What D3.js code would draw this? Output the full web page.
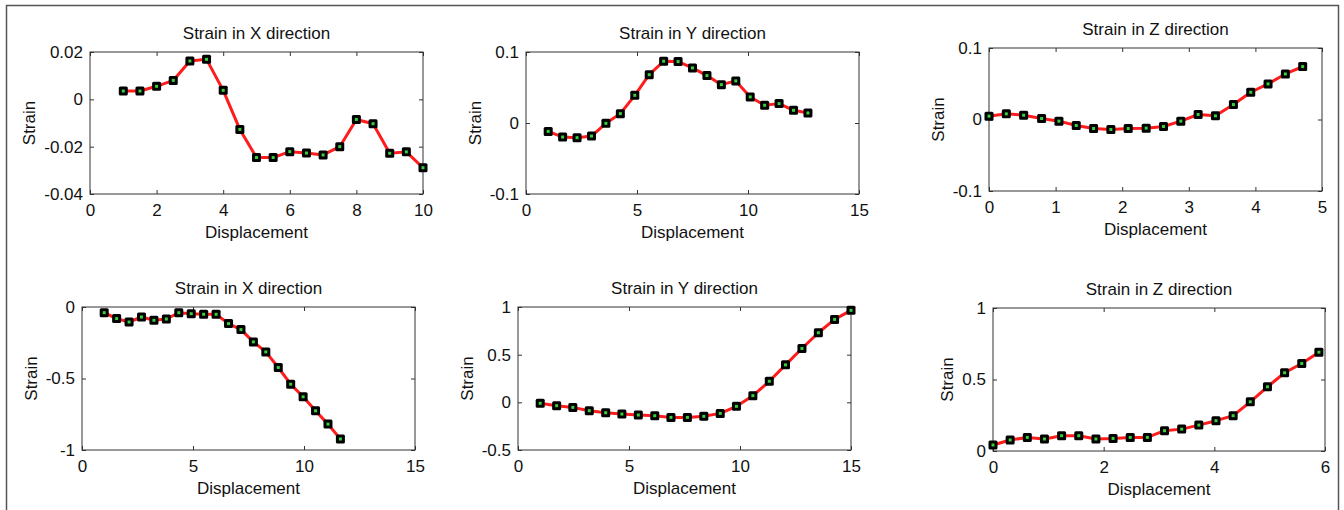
<!DOCTYPE html>
<html>
<head>
<meta charset="utf-8">
<script src="https://cdn.jsdelivr.net/npm/d3@7"></script>
<style>
  body { margin: 0; background: #fff; }
  text { font-family: "Liberation Sans", Arial, sans-serif; fill: #111; }
</style>
</head>
<body>
<div id="chart"></div>
<script>
// data
var titles = ["Strain in X direction", "Strain in Y direction", "Strain in Z direction",
              "Strain in X direction", "Strain in Y direction", "Strain in Z direction"];

var x1 = [1, 1.5, 2, 2.5, 3, 3.5, 4, 4.5, 5, 5.5, 6, 6.5, 7, 7.5, 8, 8.5, 9, 9.5, 10];
var y1 = [0.0035, 0.0035, 0.0055, 0.008, 0.0162, 0.0169, 0.0038, -0.0127, -0.0246, -0.0246,
          -0.0221, -0.0227, -0.0235, -0.0200, -0.0085, -0.0103, -0.0228, -0.0222, -0.0289];

var x2 = [1, 1.65, 2.3, 2.95, 3.6, 4.25, 4.9, 5.55, 6.2, 6.85, 7.5, 8.15, 8.8, 9.45, 10.1, 10.75, 11.4, 12.05, 12.7];
var y2 = [-0.0118, -0.0198, -0.0207, -0.0184, -0.0005, 0.0132, 0.039, 0.068, 0.087, 0.0866,
          0.0776, 0.0668, 0.054, 0.0593, 0.0367, 0.025, 0.0273, 0.0179, 0.0141];

var x3 = [0, 0.26, 0.52, 0.79, 1.05, 1.31, 1.57, 1.83, 2.09, 2.36, 2.62, 2.88, 3.14, 3.40, 3.67, 3.93, 4.19, 4.45, 4.71];
var y3 = [0.0047, 0.0079, 0.006, 0.0014, -0.0023, -0.0084, -0.0126, -0.014, -0.0126, -0.0121,
          -0.0098, -0.0023, 0.007, 0.0051, 0.0209, 0.0381, 0.0498, 0.0637, 0.074];

var x4 = [1, 1.56, 2.12, 2.68, 3.24, 3.8, 4.36, 4.92, 5.48, 6.04, 6.6, 7.16, 7.72, 8.28, 8.84, 9.4, 9.96, 10.52, 11.08, 11.64];
var y4 = [-0.040, -0.081, -0.105, -0.070, -0.093, -0.084, -0.040, -0.047, -0.051, -0.051,
          -0.116, -0.158, -0.244, -0.314, -0.423, -0.540, -0.628, -0.726, -0.819, -0.923];

var x5 = [1, 1.74, 2.47, 3.21, 3.95, 4.68, 5.42, 6.16, 6.89, 7.63, 8.37, 9.11, 9.84, 10.58, 11.32, 12.05, 12.79, 13.53, 14.26, 15];
var y5 = [-0.01, -0.035, -0.053, -0.088, -0.109, -0.123, -0.133, -0.14, -0.158, -0.158,
          -0.147, -0.116, -0.042, 0.070, 0.221, 0.393, 0.565, 0.730, 0.870, 0.965];

var x6 = [0, 0.31, 0.62, 0.93, 1.24, 1.55, 1.86, 2.17, 2.48, 2.79, 3.10, 3.41, 3.72, 4.03, 4.34, 4.65, 4.96, 5.27, 5.58, 5.89];
var y6 = [0.042, 0.077, 0.095, 0.084, 0.107, 0.107, 0.084, 0.088, 0.095, 0.095,
          0.142, 0.153, 0.181, 0.212, 0.247, 0.344, 0.449, 0.547, 0.612, 0.691];

var xTicks = [[0, 2, 4, 6, 8, 10], [0, 5, 10, 15], [0, 1, 2, 3, 4, 5],
              [0, 5, 10, 15], [0, 5, 10, 15], [0, 2, 4, 6]];
var yTicks = [[-0.04, -0.02, 0, 0.02], [-0.1, 0, 0.1], [-0.1, 0, 0.1],
              [-1, -0.5, 0], [-0.5, 0, 0.5, 1], [0, 0.5, 1]];

var xs = [x1, x2, x3, x4, x5, x6];
var ys = [y1, y2, y3, y4, y5, y6];

// layout of the six axes boxes
var boxes = [
  {left: 90,  top: 52,  w: 333, h: 142},
  {left: 526, top: 52,  w: 333, h: 142},
  {left: 989, top: 48,  w: 333, h: 143},
  {left: 82,  top: 307, w: 333, h: 143},
  {left: 518, top: 307, w: 333, h: 143},
  {left: 993, top: 308, w: 332, h: 143}
];

var svgWidth = 1344;
var svgHeight = 510;

var svg = d3.select("#chart").append("svg")
  .attr("width", svgWidth)
  .attr("height", svgHeight);

// outer frame (no bottom edge visible)
svg.append("path")
  .attr("d", "M6.5,510 L6.5,5.5 L1338.5,5.5 L1338.5,510")
  .attr("fill", "none")
  .attr("stroke", "#555")
  .attr("stroke-width", 1.5);

var fmt = function(d) { return String(+d.toFixed(4)); };

boxes.forEach(function(b, i) {
  var g = svg.append("g")
    .attr("transform", `translate(${b.left}, ${b.top})`);

  var xt = xTicks[i], yt = yTicks[i];
  var xScale = d3.scaleLinear()
    .domain([xt[0], xt[xt.length - 1]])
    .range([0, b.w]);
  var yScale = d3.scaleLinear()
    .domain([yt[0], yt[yt.length - 1]])
    .range([b.h, 0]);

  // axes, ticks pointing inward
  var bottom = g.append("g")
    .attr("transform", `translate(0, ${b.h})`)
    .call(d3.axisBottom(xScale).tickValues(xt).tickFormat(fmt)
      .tickSizeInner(-4).tickSizeOuter(0).tickPadding(10));
  var left = g.append("g")
    .call(d3.axisLeft(yScale).tickValues(yt).tickFormat(fmt)
      .tickSizeInner(-4).tickSizeOuter(0).tickPadding(7));
  g.append("g")
    .call(d3.axisTop(xScale).tickValues(xt).tickFormat("")
      .tickSizeInner(-4).tickSizeOuter(0));
  g.append("g")
    .attr("transform", `translate(${b.w}, 0)`)
    .call(d3.axisRight(yScale).tickValues(yt).tickFormat("")
      .tickSizeInner(-4).tickSizeOuter(0));

  g.selectAll(".domain").remove();
  g.selectAll(".tick line").attr("stroke", "#333");
  g.selectAll(".tick text")
    .attr("font-size", 17)
    .attr("font-family", "Liberation Sans, Arial, sans-serif")
    .attr("fill", "#111");

  g.append("rect")
    .attr("width", b.w)
    .attr("height", b.h)
    .attr("fill", "none")
    .attr("stroke", "#333")
    .attr("stroke-width", 1);

  // line and markers
  var pts = xs[i].map(function(x, j) { return [x, ys[i][j]]; });
  var line = d3.line()
    .x(d => xScale(d[0]))
    .y(d => yScale(d[1]));

  g.append("path")
    .datum(pts)
    .attr("d", line)
    .attr("fill", "none")
    .attr("stroke", "#ff1c1c")
    .attr("stroke-width", 3)
    .attr("stroke-linejoin", "round");

  var marks = g.selectAll(".mark")
    .data(pts)
    .enter();

  marks.append("rect")
    .attr("x", d => xScale(d[0]) - 4.5)
    .attr("y", d => yScale(d[1]) - 4.5)
    .attr("width", 9)
    .attr("height", 9)
    .attr("rx", 1.5)
    .attr("fill", "#000");

  marks.append("rect")
    .attr("x", d => xScale(d[0]) - 1.5)
    .attr("y", d => yScale(d[1]) - 1.5)
    .attr("width", 3)
    .attr("height", 3)
    .attr("fill", "#3ccf3c");

  // titles and axis labels
  g.append("text")
    .attr("x", b.w / 2)
    .attr("y", -13)
    .attr("text-anchor", "middle")
    .attr("font-size", 17)
    .text(titles[i]);

  g.append("text")
    .attr("x", b.w / 2)
    .attr("y", b.h + 44)
    .attr("text-anchor", "middle")
    .attr("font-size", 17)
    .text("Displacement");

  var bb = left.node().getBBox();
  g.append("text")
    .attr("transform", `translate(${bb.x - 15}, ${b.h / 2}) rotate(-90)`)
    .attr("text-anchor", "middle")
    .attr("dy", "0.35em")
    .attr("font-size", 17)
    .text("Strain");
});
</script>
</body>
</html>
